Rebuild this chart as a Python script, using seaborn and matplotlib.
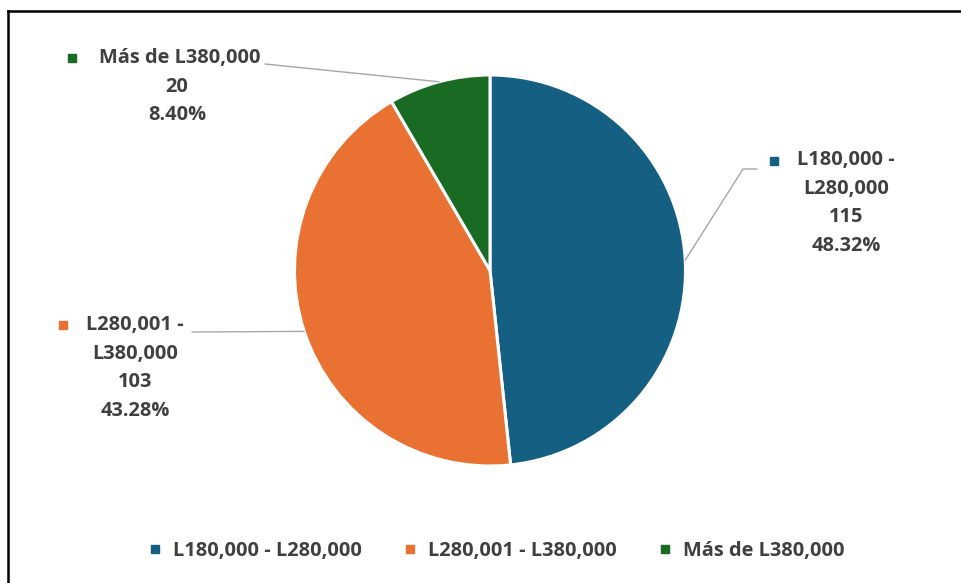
import numpy as np
import matplotlib
matplotlib.use("Agg")
import matplotlib.pyplot as plt
from matplotlib.lines import Line2D
import seaborn as sns

# Salary ranges and number of responses
categories = ["L180,000 - L280,000", "L280,001 - L380,000", "Más de L380,000"]
label_lines = [["L180,000 -", "L280,000"], ["L280,001 -", "L380,000"], ["Más de L380,000"]]
counts = [115, 103, 20]
colors = ["#156082", "#E97132", "#196B24"]

sns.set_theme(style="white")
plt.rcParams["font.family"] = ["Open Sans", "DejaVu Sans"]
TEXT = "#404040"
FS = 14.4

W, H = 961, 583
fig = plt.figure(figsize=(W / 100, H / 100), dpi=100)
ax = fig.add_axes([0, 0, 1, 1])


def Y(y):
    # pixel rows counted from the top
    return H - y


cx, cy, r = 490, Y(270.5), 195.5
wedges, _ = ax.pie(
    counts, colors=colors, startangle=90, counterclock=False,
    center=(cx, cy), radius=r, frame=True,
    wedgeprops=dict(edgecolor="white", linewidth=2.2),
)
ax.set_xlim(0, W)
ax.set_ylim(0, H)
ax.set_aspect("auto")
ax.axis("off")

total = sum(counts)

# label block: marker position, text centre x, first line y, leader anchor
label_cfg = [
    dict(marker=(774, 161), cx=846, y0=160, anchor=[(757, 169), (743, 169)]),
    dict(marker=(63, 325), cx=135, y0=325, anchor=[(192, 332)]),
    dict(marker=(72, 58), cx=177, y0=58, anchor=[(265, 64)]),
]
line_gap = 28.7

for w, lines, n, col, cfg in zip(wedges, label_lines, counts, colors, label_cfg):
    mid = np.deg2rad((w.theta1 + w.theta2) / 2)
    ex, ey = cx + r * np.cos(mid), cy + r * np.sin(mid)
    pts = [(x, Y(y)) for x, y in cfg["anchor"]] + [(ex, ey)]
    ax.plot([p[0] for p in pts], [p[1] for p in pts], color="#a6a6a6", lw=1.0, zorder=1)

    rows = lines + [f"{n}", f"{n / total * 100:.2f}%"]
    for i, t in enumerate(rows):
        x = cfg["cx"]
        if i == 0 and len(lines) == 1:
            x = cfg["cx"] + 3
        ax.text(x, Y(cfg["y0"] + i * line_gap), t, ha="center", va="center",
                fontsize=FS, fontweight="bold", color=TEXT)
    mx, my = cfg["marker"]
    ax.plot([mx], [Y(my)], marker="s", ms=5.5, color=col, ls="none")

# outer frame (top and left edges)
ax.plot([8, W], [Y(11), Y(11)], color="black", lw=1.8, solid_capstyle="projecting")
ax.plot([8, 8], [Y(11), 0], color="black", lw=1.8, solid_capstyle="projecting")

handles = [Line2D([], [], marker="s", ms=5.5, color=c, ls="none") for c in colors]
leg = fig.legend(
    handles, categories, loc="center", bbox_to_anchor=(495.5 / W, 1 - 551 / H),
    ncol=3, frameon=False, handlelength=0.8, handletextpad=0.5,
    columnspacing=2.0, prop=dict(size=FS, weight="bold"),
)
for t in leg.get_texts():
    t.set_color(TEXT)

fig.savefig("out.png", dpi=100, facecolor="white")
